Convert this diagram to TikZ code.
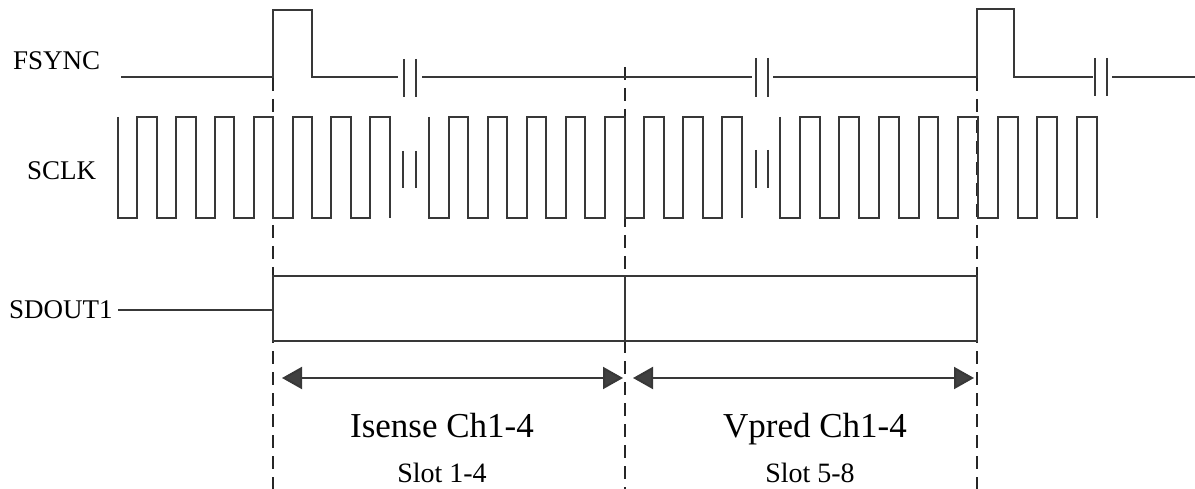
\documentclass[tikz,border=0pt]{standalone}
\usepackage{fontspec}
\setmainfont{Liberation Serif}
\usetikzlibrary{arrows.meta}
\begin{document}
\begin{tikzpicture}[x=1pt,y=-1pt,
  wave/.style={line width=2pt, draw=black!78, line join=miter, line cap=butt},
  brk/.style={line width=2.6pt, draw=black!78},
  guide/.style={line width=1.5pt, draw=black!85, dash pattern=on 13pt off 8pt},
  sig/.style={font=\fontsize{27}{30}\selectfont, inner sep=0pt, anchor=base west},
  lab/.style={font=\fontsize{35}{40}\selectfont, inner sep=0pt, anchor=base},
  slotlab/.style={font=\fontsize{28}{32}\selectfont, inner sep=0pt, anchor=base},
  dimline/.style={line width=2pt, draw=black!78,
    {Triangle[length=20pt,width=22pt,fill=black!75]}-{Triangle[length=20pt,width=22pt,fill=black!75]}}
]
\useasboundingbox (0,0) rectangle (1195,489);

% guide lines
\draw[guide] (273,78) -- (273,489);
\draw[guide] (625,67) -- (625,489);
\draw[guide] (977,78) -- (977,489);

% labels
\node[sig] (fs) at (13,70) {FSYNC};
\node[sig] (sc) at (27,180) {SCLK};
\node[sig] (sd) at (9,319) {SDOUT1};

% FSYNC
\draw[wave] (121,77) -- (273,77) -- (273,10) -- (312,10) -- (312,77) -- (398,77);
\draw[wave] (422,77) -- (752,77);
\draw[wave] (773,77) -- (977,77) -- (977,9) -- (1014,9) -- (1014,77) -- (1093,77);
\draw[wave] (1112,77) -- (1195,77);
\draw[brk] (404,59) -- (404,97) (416,59) -- (416,97);
\draw[brk] (756,58) -- (756,97) (768,58) -- (768,97);
\draw[brk] (1095,58) -- (1095,96) (1107,58) -- (1107,96);

% SCLK
\draw[wave] (118,117) -- (118,218)
  \foreach \i in {1,...,7}{ -- ++(19.4,0) -- ++(0,-101) -- ++(19.4,0) -- ++(0,101)};
\draw[wave] (429,117) -- (429,218)
  \foreach \i in {1,...,8}{ -- ++(19.56,0) -- ++(0,-101) -- ++(19.56,0) -- ++(0,101)};
\draw[wave] (780,117) -- (780,218)
  \foreach \i in {1,...,8}{ -- ++(19.8,0) -- ++(0,-101) -- ++(19.8,0) -- ++(0,101)};
\draw[brk] (403,151) -- (403,188) (416,151) -- (416,188);
\draw[brk] (756,150) -- (756,188) (768,150) -- (768,188);

% SDOUT1
\coordinate (sd0) at (118,310);
\coordinate (sd1) at (273,310);
\draw[wave] (sd0) -- (sd1);
\draw[wave] (273,276) rectangle (977,341);
\draw[wave] (625,276) -- (625,341);

% dimension arrows
\coordinate (a1) at (282,378);
\coordinate (a2) at (623,378);
\coordinate (b1) at (633,378);
\coordinate (b2) at (974,378);
\draw[dimline] (a1) -- (a2);
\draw[dimline] (b1) -- (b2);

% texts
\node[lab] (is) at (442,437) {Isense Ch1-4};
\node[lab] (vp) at (815,437) {Vpred Ch1-4};
\node[slotlab] (s1) at (442,482) {Slot 1-4};
\node[slotlab] (s2) at (810,482) {Slot 5-8};
\end{tikzpicture}
\end{document}
